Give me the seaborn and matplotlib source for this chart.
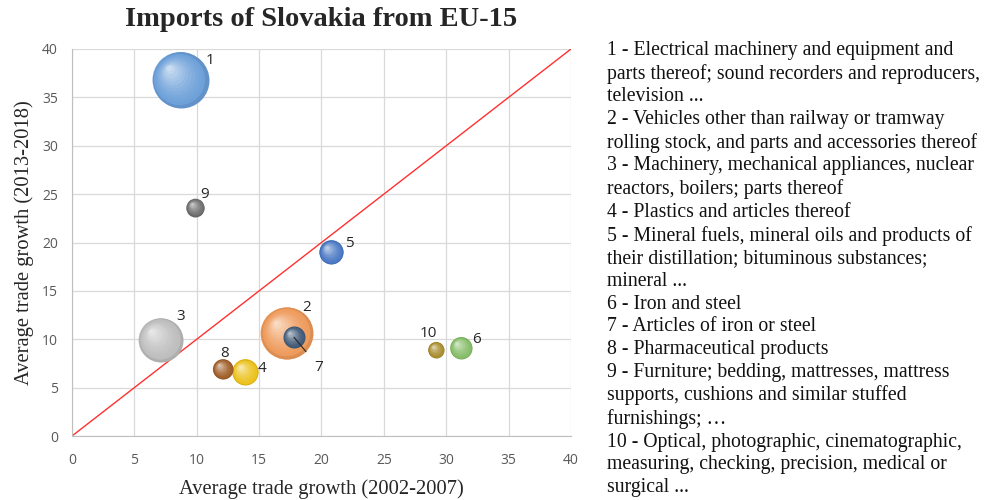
import pandas as pd
import numpy as np
import matplotlib.pyplot as plt
import matplotlib.colors as mcolors
from matplotlib.transforms import offset_copy
import seaborn as sns

# data
labels = ['1', '2', '3', '4', '5', '6', '7', '8', '9', '10']
growth_0207 = [8.7, 17.2, 7.1, 13.9, 20.8, 31.2, 17.8, 12.1, 9.9, 29.2]
growth_1318 = [36.8, 10.6, 9.9, 6.6, 19.0, 9.1, 10.2, 6.9, 23.6, 8.9]
volume = [784, 676, 484, 169, 144, 121, 121, 100, 81, 64]
colors = ['#6b9fd8', '#ee9a5a', '#bdbdbd', '#ecc21c', '#4a78c4',
          '#86bd68', '#405a78', '#a05e28', '#6e6e6e', '#a88c2c']
descriptions = [
    "1 - Electrical machinery and equipment and\nparts thereof; sound recorders and reproducers,\ntelevision ...",
    "2 - Vehicles other than railway or tramway\nrolling stock, and parts and accessories thereof",
    "3 - Machinery, mechanical appliances, nuclear\nreactors, boilers; parts thereof",
    "4 - Plastics and articles thereof",
    "5 - Mineral fuels, mineral oils and products of\ntheir distillation; bituminous substances;\nmineral ...",
    "6 - Iron and steel",
    "7 - Articles of iron or steel",
    "8 - Pharmaceutical products",
    "9 - Furniture; bedding, mattresses, mattress\nsupports, cushions and similar stuffed\nfurnishings; \u2026",
    "10 - Optical, photographic, cinematographic,\nmeasuring, checking, precision, medical or\nsurgical ...",
]

# label offsets in pixels (style)
label_off = [(30, 19), (20, 26), (20, 24), (17, 4), (18, 9),
             (15, 8), (25, -30), (2, 16), (9, 13), (-8, 16)]

df = pd.DataFrame({'label': labels, 'x': growth_0207, 'y': growth_1318, 'vol': volume})

sns.set_style('white')
fig = plt.figure(figsize=(9.97, 5), dpi=100)
ax = fig.add_axes([0.0722, 0.128, 0.5005, 0.774])

ax.axline((0, 0), slope=1, color='#ff3030', lw=1, zorder=2)

smin, smax = 133, 1625
sns.scatterplot(data=df, x='x', y='y', hue='label', palette=colors, size='vol',
                sizes=(smin, smax), legend=False, linewidth=0, ax=ax, zorder=3)

# fake sphere shading: lighter layers shifted up-left, bigger bubbles underneath
vmin, vmax = min(volume), max(volume)
order = np.argsort(volume)[::-1]
for rank, i in enumerate(order):
    row = df.iloc[i]
    s = smin + (row.vol - vmin) / (vmax - vmin) * (smax - smin)
    r = np.sqrt(s) / 2
    base = np.array(mcolors.to_rgb(colors[i]))
    n = 12
    for k in range(0, n):
        f = 1 - k / n
        t = (k / n) ** 1.5 * 0.75
        c = base * (1 - t) + np.ones(3) * t
        if k == 0:
            c = base * 0.92
        d = (1 - f) * r * 0.45
        tr = offset_copy(ax.transData, fig=fig, x=-d, y=d, units='points')
        ax.scatter([row.x], [row.y], s=s * f * f, color=c, linewidth=0,
                   transform=tr, zorder=4 + rank + k * 0.01)

for i, row in df.iterrows():
    dx, dy = label_off[i]
    if row.label == '7':
        ax.annotate(row.label, (row.x, row.y), xytext=(dx, dy), textcoords='offset pixels',
                    fontsize=11, color='#262626', ha='center', va='center',
                    fontfamily='Open Sans', zorder=30,
                    arrowprops=dict(arrowstyle='-', color='#262626', lw=0.8,
                                    shrinkA=6, shrinkB=0))
    else:
        ax.annotate(row.label, (row.x, row.y), xytext=(dx, dy), textcoords='offset pixels',
                    fontsize=11, color='#262626', ha='center', va='center',
                    fontfamily='Open Sans', zorder=30)

ax.set_xlim(0, 40)
ax.set_ylim(0, 40)
ax.set_xticks(range(0, 41, 5))
ax.set_yticks(range(0, 41, 5))
ax.grid(True, color='#d9d9d9', lw=0.9)
ax.set_axisbelow(True)
for sp in ['top', 'right']:
    ax.spines[sp].set_visible(False)
for sp in ['left', 'bottom']:
    ax.spines[sp].set_color('#bfbfbf')
ax.tick_params(length=0, labelsize=10, colors='#595959')
ax.tick_params(axis='x', pad=12)
ax.tick_params(axis='y', pad=10)
for lab in ax.get_xticklabels() + ax.get_yticklabels():
    lab.set_fontfamily('Open Sans')

ax.set_xlabel('Average trade growth (2002-2007)', fontfamily='Liberation Serif',
              fontsize=14.8, color='#262626', labelpad=8)
ax.set_ylabel('Average trade growth (2013-2018)', fontfamily='Liberation Serif',
              fontsize=14.8, color='#262626', labelpad=6)

fig.text(0.322, 0.96, 'Imports of Slovakia from EU-15', ha='center', va='center',
         fontfamily='Liberation Serif', fontweight='bold', fontsize=20.5)

fig.text(0.609, 0.918, '\n'.join(descriptions), ha='left', va='top',
         fontfamily='Liberation Serif', fontsize=14.2, linespacing=1.26, color='#111111')

fig.savefig('out.png', dpi=100)
